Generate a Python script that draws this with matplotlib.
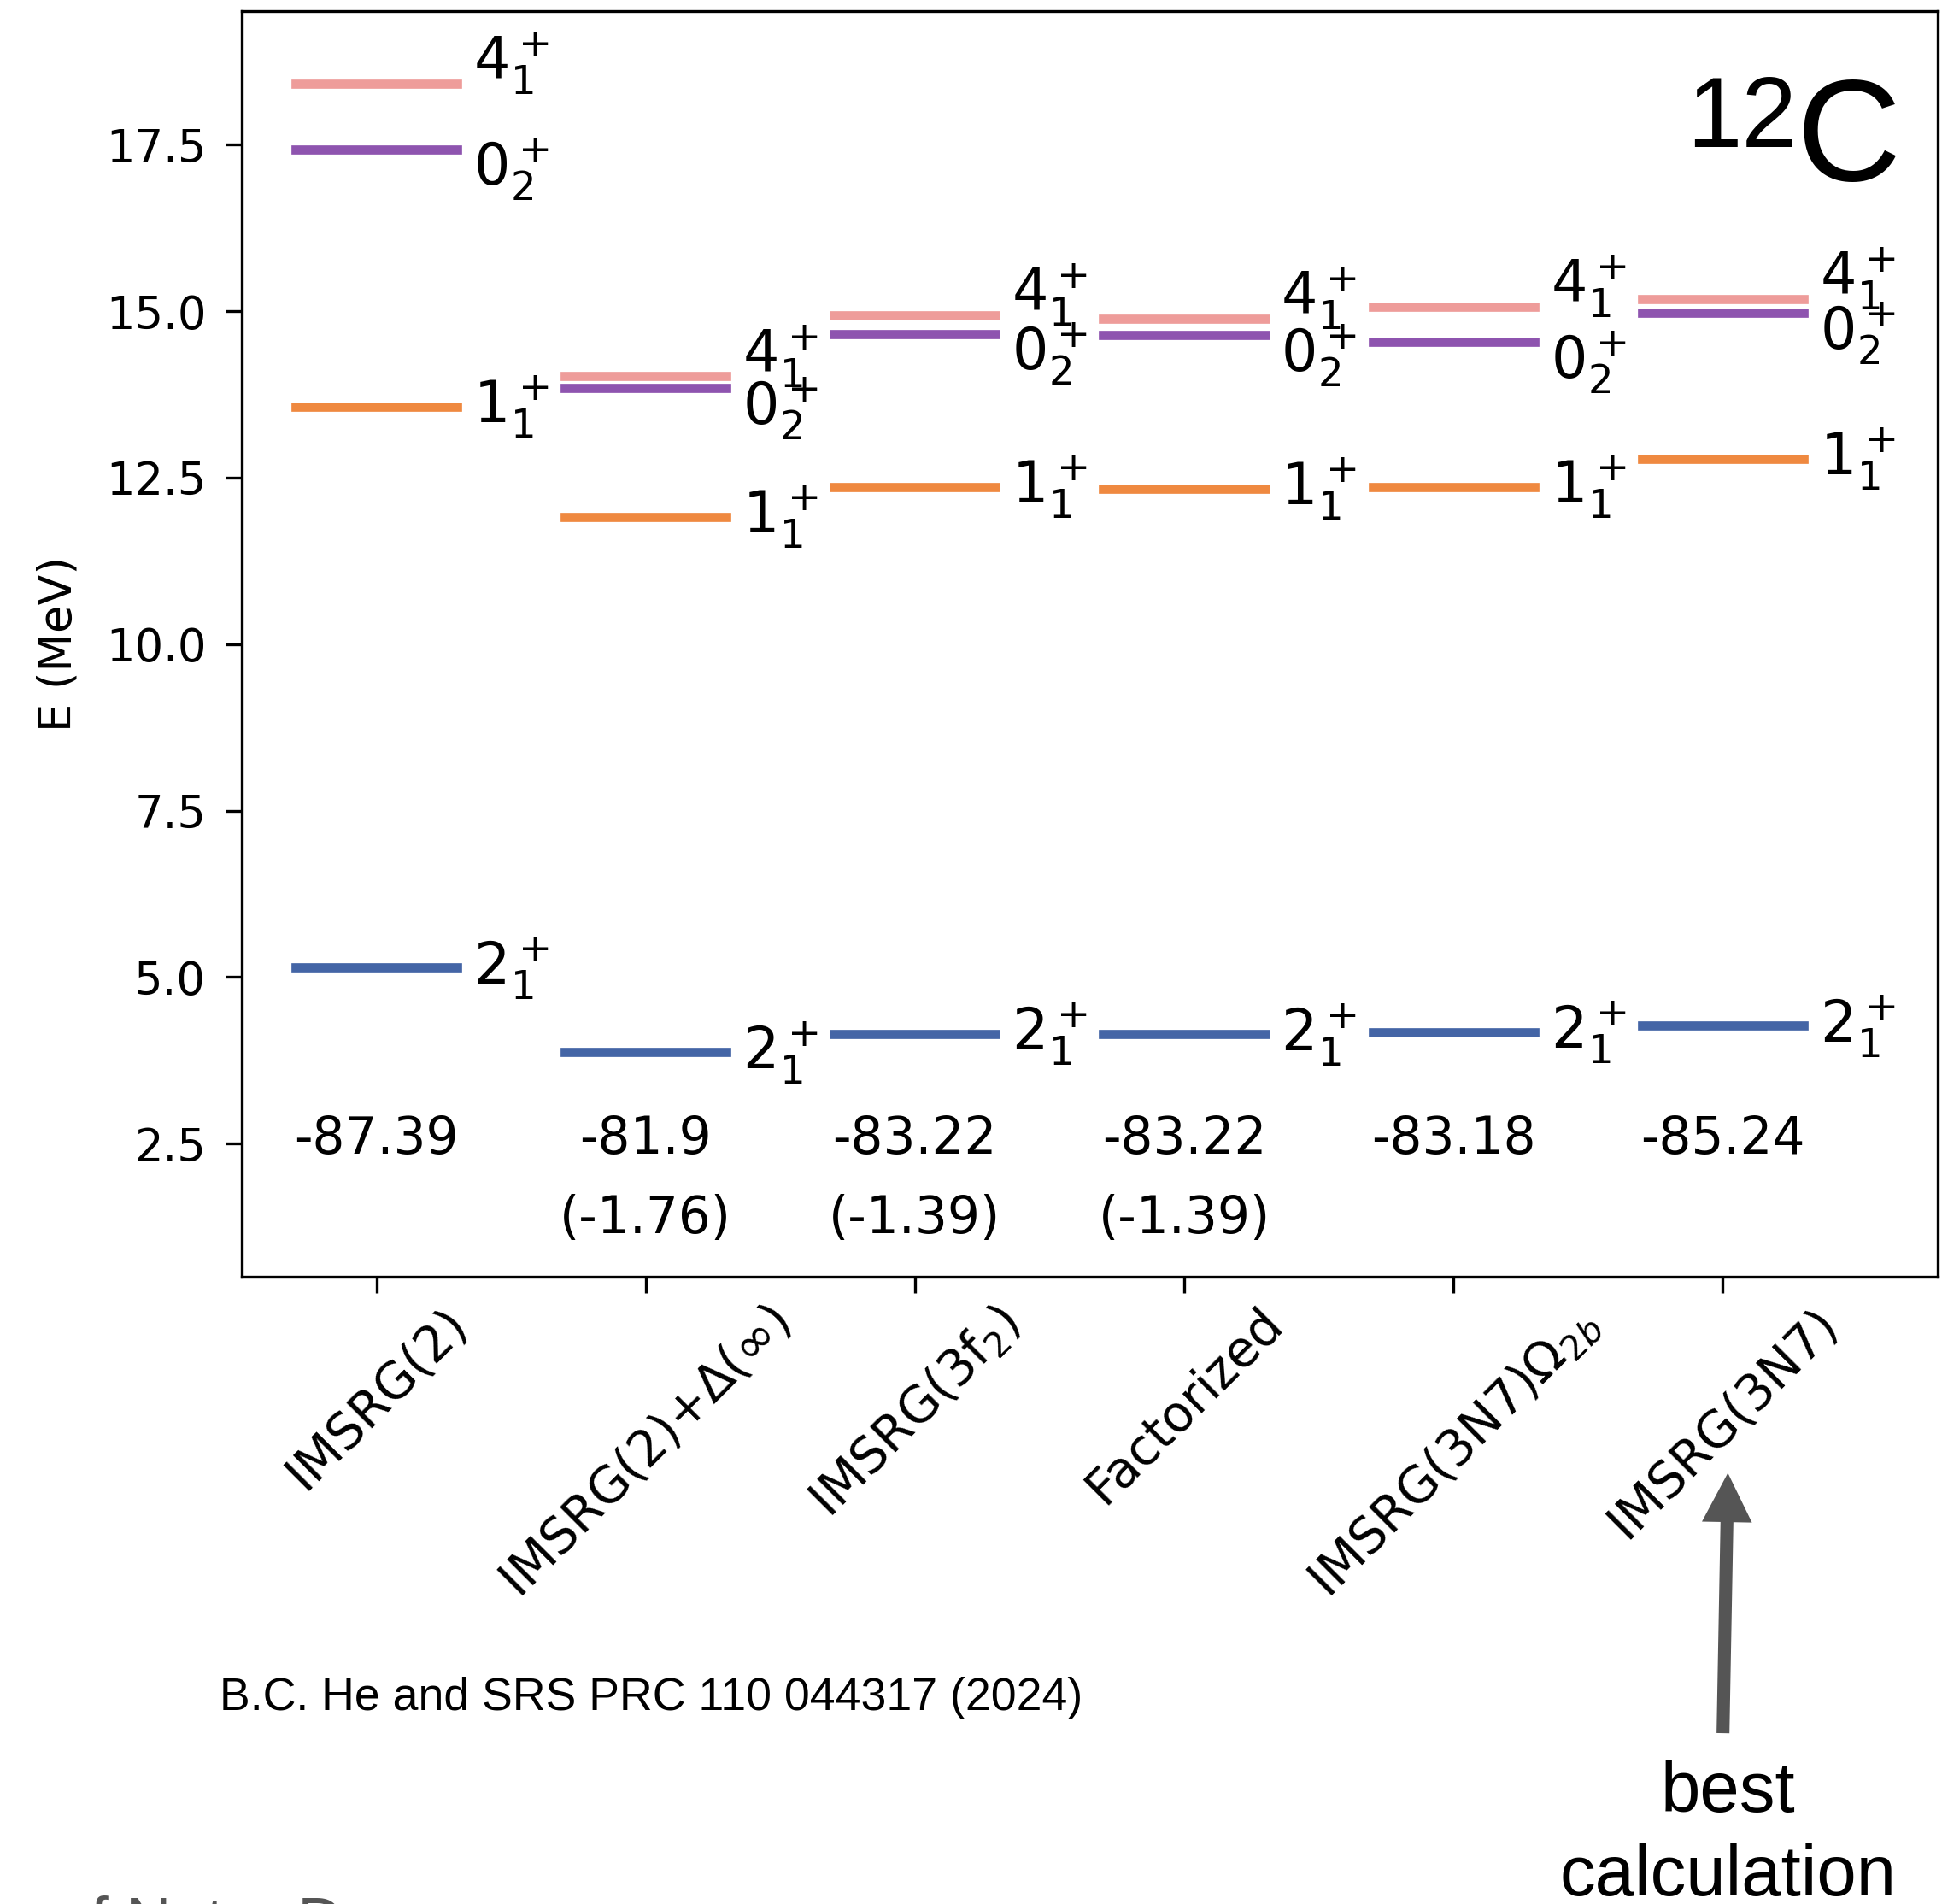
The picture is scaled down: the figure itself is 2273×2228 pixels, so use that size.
import matplotlib
matplotlib.use("Agg")
import matplotlib.pyplot as plt
from matplotlib.patches import FancyArrow
from matplotlib.transforms import IdentityTransform

# calculations shown along the x axis
methods = ["IMSRG(2)", r"IMSRG(2)+$\Delta(\infty)$", r"IMSRG(3f$_2$)",
           "Factorized", r"IMSRG(3N7)$\Omega_{2b}$", "IMSRG(3N7)"]

# excitation energies (MeV) of each state per calculation
e_2p1 = [5.14, 3.87, 4.15, 4.14, 4.17, 4.27]
e_1p1 = [13.57, 11.91, 12.36, 12.33, 12.36, 12.78]
e_0p2 = [17.43, 13.84, 14.66, 14.64, 14.54, 14.97]
e_4p1 = [18.41, 14.02, 14.94, 14.89, 15.06, 15.18]

# ground state energies and corrections (MeV)
gs_energy = ["-87.39", "-81.9", "-83.22", "-83.22", "-83.18", "-85.24"]
gs_corr = ["", "(-1.76)", "(-1.39)", "(-1.39)", "", ""]

yticks = [2.5, 5.0, 7.5, 10.0, 12.5, 15.0, 17.5]

# state label, energies, colour, vertical offset of the label
states = [
    (r"$4_1^+$", e_4p1, "#ee9c9a", 0.31),
    (r"$0_2^+$", e_0p2, "#8e54af", -0.30),
    (r"$1_1^+$", e_1p1, "#ef8940", 0.0),
    (r"$2_1^+$", e_2p1, "#4465a6", 0.0),
]

W, H, DPI = 2273, 2228, 200
fig = plt.figure(figsize=(W / DPI, H / DPI), dpi=DPI)
ax = fig.add_axes([0.1245, 0.3294, 0.8735, 0.6646])

for label, energies, color, dy in states:
    for i, e in enumerate(energies):
        ax.plot([i - 0.3, i + 0.3], [e, e], color=color, lw=3.85)
        ax.text(i + 0.36, e + dy, label, fontsize=24, va="center", ha="left")

for i, (g, c) in enumerate(zip(gs_energy, gs_corr)):
    ax.text(i, 2.35, g, fontsize=21.5, ha="center", va="baseline")
    if c:
        ax.text(i, 1.15, c, fontsize=21.5, ha="center", va="baseline")

ax.set_xlim(-0.5, 5.8)
ax.set_ylim(0.5, 19.5)
ax.set_xticks(range(len(methods)))
ax.set_xticklabels(methods, rotation=45, fontsize=21)
ax.set_yticks(yticks)
ax.tick_params(length=7, width=1.2)
ax.tick_params(axis="y", labelsize=19, pad=8)
ax.tick_params(axis="x", pad=2)
for s in ax.spines.values():
    s.set_linewidth(1.2)
ax.set_ylabel("E (MeV)", fontsize=19)
ax.yaxis.set_label_coords(-0.095, 0.5)

# nucleus tag
fig.text(0.8685, 0.9229, "12", family="Liberation Sans", fontsize=41.7, va="baseline")
fig.text(0.9248, 0.9053, "C", family="Liberation Sans", fontsize=61, va="baseline")

fig.text(0.1131, 0.1019, "B.C. He and SRS PRC 110 044317 (2024)",
         family="Liberation Sans", fontsize=19.3, va="baseline")

# pointer to the best calculation
arrow = FancyArrow(2016.7, 201.3, 5.6, 300, width=12.3, head_width=54,
                   head_length=53, length_includes_head=True,
                   color="#555555", transform=IdentityTransform())
fig.add_artist(arrow)
fig.text(0.8896, 0.0486, "best", family="Liberation Sans", fontsize=30,
         ha="center", va="baseline")
fig.text(0.8896, 0.0045, "calculation", family="Liberation Sans", fontsize=30,
         ha="center", va="baseline")

fig.text(0.0286, -0.0197, "of Notre Dame", family="Liberation Sans",
         fontsize=26.6, color="#555555", va="baseline")

fig.savefig("out.png", dpi=DPI)
